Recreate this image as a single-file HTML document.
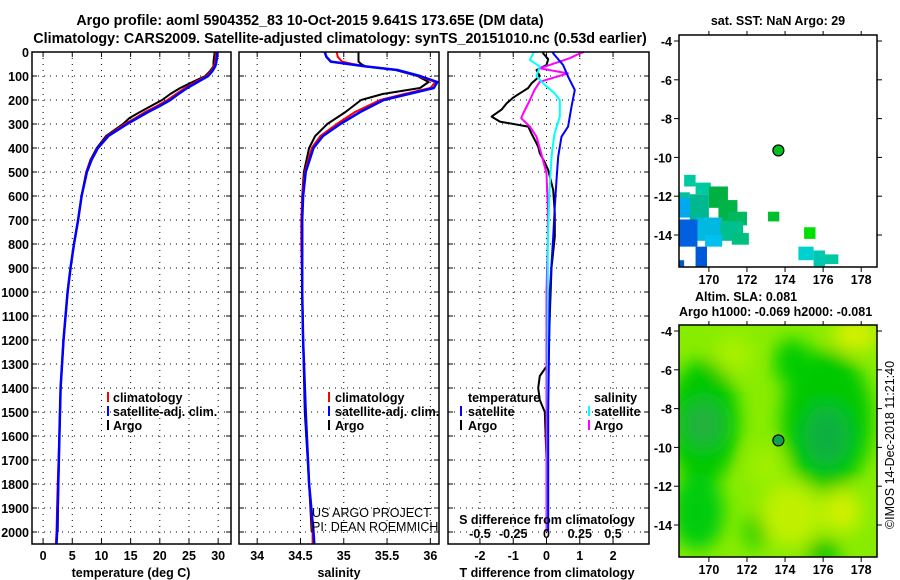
<!DOCTYPE html>
<html><head><meta charset="utf-8">
<style>
html,body{margin:0;padding:0;background:#fff;}
svg{display:block;font-family:"Liberation Sans",Arial,sans-serif;}
.b{font-weight:bold;font-size:14.3px;}
.t{font-weight:bold;font-size:12.5px;}
</style></head>
<body>
<svg id="chart" width="900" height="580" viewBox="0 0 900 580" xmlns="http://www.w3.org/2000/svg">
<defs>
<filter id="blur" x="-50%" y="-50%" width="200%" height="200%"><feGaussianBlur stdDeviation="9"/></filter>
<clipPath id="clipMap2"><rect x="679" y="325" width="198" height="232"/></clipPath>
<clipPath id="clipMap1"><rect x="679" y="35" width="198" height="232"/></clipPath>
</defs>
<text x="310" y="25" text-anchor="middle" class="b">Argo profile: aoml 5904352_83 10-Oct-2015 9.641S 173.65E (DM data)</text>
<text x="340" y="43" text-anchor="middle" class="b">Climatology: CARS2009. Satellite-adjusted climatology: synTS_20151010.nc (0.53d earlier)</text>
<text x="778" y="25" text-anchor="middle" class="t">sat. SST: NaN Argo: 29</text>
<text x="695" y="301" class="t">Altim. SLA: 0.081</text>
<text x="679" y="316" class="t">Argo h1000: -0.069 h2000: -0.081</text>
<text transform="translate(894,445) rotate(-90)" text-anchor="middle" font-size="12.5">©IMOS 14-Dec-2018 11:21:40</text>
<g id="g"></g>
</svg>
<script>
// ---- Temperature panel data ----
const tDepth = [0,20,40,60,80,100,125,150,175,200,225,250,275,300,350,400,450,500,600,700,800,900,1000,1200,1400,1600,1800,2000,2050];
const tClim = [29.6,29.6,29.5,29.3,28.8,28.0,26.1,24.3,22.8,21.3,19.5,17.5,15.8,14.0,11.0,9.3,8.2,7.4,6.6,6.0,5.3,4.7,4.2,3.5,3.0,2.8,2.5,2.3,2.2];
const tSat = [29.8,29.8,29.7,29.5,29.0,28.3,26.5,24.7,23.2,21.8,20.0,18.0,16.2,14.4,11.2,9.4,8.3,7.5,6.6,6.0,5.3,4.7,4.2,3.5,3.0,2.8,2.6,2.4,2.3];
const tArgoDepth = [0,20,40,60,80,100,125,150,175,200,225,250,275,300,350,400,450,500,600,700,800,900,1000,1200,1400,1600,1800,2000];
const tArgo = [29.4,29.3,29.2,29.2,28.6,27.8,25.6,23.5,21.8,20.4,18.5,16.6,14.8,13.7,10.8,9.2,8.1,7.4,6.6,6.0,5.3,4.7,4.2,3.5,3.0,2.8,2.6,2.5];
const tTicks = [0,5,10,15,20,25,30];
// ---- Salinity panel data ----
const sDepth = [0,20,40,50,60,75,100,125,150,175,200,250,300,350,400,500,600,700,800,1000,1200,1500,1800,2000,2050];
const sClim = [34.92,34.93,34.98,35.1,35.26,35.62,35.86,36.06,36.0,35.7,35.42,35.13,34.92,34.73,34.63,34.55,34.52,34.51,34.51,34.52,34.53,34.56,34.6,34.64,34.64];
const sSat = [34.78,34.80,34.85,35.05,35.25,35.62,35.88,36.08,36.04,35.75,35.46,35.19,34.96,34.76,34.65,34.56,34.53,34.52,34.52,34.52,34.53,34.56,34.6,34.65,34.66];
const sArgoDepth = [0,20,40,50,60,75,100,125,150,175,200,250,300,350,400,500,600,700,800,1000,1200,1500,1800,2000];
const sArgo = [35.17,35.17,35.17,35.2,35.25,35.6,35.85,35.98,35.88,35.45,35.2,35.02,34.81,34.67,34.6,34.54,34.52,34.52,34.52,34.52,34.53,34.55,34.6,34.63];
const sTicks = [34,34.5,35,35.5,36];
const sTickLabels = ["34","34.5","35","35.5","36"];
// ---- Difference panel data ----
const dArgoTDepth = [0,6,30,54,75,100,131,150,172,190,214,240,269,290,311,340,367,395,422,460,492,575,672,770,900,1100,1300,1350,1400,1450,1500,1700,2000];
const dArgoT = [-0.1,-0.1,0.05,0,-0.3,-0.2,-0.45,-0.55,-0.8,-1.0,-1.2,-1.35,-1.65,-1.4,-0.55,-0.45,-0.35,-0.25,-0.2,-0.05,0.05,0.2,0.25,0.25,0.15,0.1,0.05,-0.2,-0.25,-0.2,-0.05,0,0];
const dSatTDepth = [0,6,54,103,158,228,311,353,436,533,645,770,1000,1500,2000];
const dSatT = [0.2,0.2,0.5,0.65,0.85,0.75,0.65,0.45,0.35,0.3,0.25,0.2,0.1,0.05,0.05];
const dArgoSDepth = [0,6,26,68,89,124,158,200,256,276,311,353,422,506,644,783,1000,1500,2000];
const dArgoS = [0.28,0.25,0.175,-0.05,0.16,-0.05,-0.09,-0.125,-0.175,-0.19,-0.125,-0.075,-0.04,0,0.01,0.01,0,0,0];
const dSatSDepth = [0,6,33,61,100,131,172,200,270,340,425,550,783,1200,2000];
const dSatS = [-0.1,-0.1,-0.125,-0.05,-0.075,-0.025,0.06,0.1,0.1,0.06,0.04,0.025,0.01,0.01,0.01];
const dTTicks = [-2,-1,0,1,2];
const dSTicks = [-0.5,-0.25,0,0.25,0.5];
const dSTickLabels = ["-0.5","-0.25","0","0.25","0.5"];
const depthTicks = [0,100,200,300,400,500,600,700,800,900,1000,1100,1200,1300,1400,1500,1600,1700,1800,1900,2000];
// ---- Map data ----
const lonTicks = [170,172,174,176,178];
const latTicks = [-4,-6,-8,-10,-12,-14];
const argoLon = 173.65, argoLat = -9.641;
// SST cells: [lon0, lat0(top), lon1, lat1(bottom), color]
const sstCells = [
 [168.7,-10.9,169.3,-11.5,"#00c8a0"],
 [169.3,-11.3,170.1,-11.9,"#00c8a0"],
 [168.43,-11.8,169.0,-12.4,"#00c0a0"],
 [168.43,-12.1,169.2,-13.1,"#00a8f0"],
 [169.0,-11.9,170.0,-13.4,"#00b890"],
 [170.0,-11.5,171.0,-12.6,"#00b040"],
 [170.5,-12.2,171.5,-13.3,"#00b448"],
 [171.0,-12.8,172.0,-13.5,"#00b860"],
 [169.3,-13.1,170.7,-14.3,"#00b8e0"],
 [170.6,-13.3,171.8,-14.3,"#00c090"],
 [171.2,-13.9,172.1,-14.5,"#00c080"],
 [169.8,-14.0,170.7,-14.6,"#00c0f0"],
 [168.43,-13.2,169.4,-14.6,"#0060e0"],
 [169.3,-14.6,169.9,-15.65,"#0058d8"],
 [168.43,-15.3,168.7,-15.65,"#0058d8"],
 [173.1,-12.8,173.7,-13.3,"#00c030"],
 [175.0,-13.6,175.6,-14.2,"#00e000"],
 [174.7,-14.6,175.5,-15.3,"#00d0d0"],
 [175.5,-14.8,176.1,-15.65,"#00c8b0"],
 [176.1,-15.0,176.8,-15.5,"#00c8a0"]
];
// SLA blobs: [lon, lat, rLon, rLat, color]
const slaBlobs = [
 [169.7,-8.7,1.9,3.2,"#00c800"],
 [169.7,-8.8,1.0,1.2,"#20b040"],
 [169.4,-13.3,1.4,2.0,"#00cc10"],
 [172.5,-14.3,0.6,0.9,"#00cc00"],
 [176.2,-8.6,2.4,3.6,"#00c800"],
 [176.2,-9.4,1.2,1.6,"#10b040"],
 [174.4,-5.6,1.0,1.2,"#00cc00"],
 [176.0,-15.4,0.9,0.6,"#00c000"],
 [171.3,-5.2,1.0,1.0,"#a8f000"],
 [177.7,-4.2,1.2,0.8,"#d8f000"],
 [174.3,-13.5,1.6,1.6,"#c0f000"],
 [177.0,-13.3,1.0,1.1,"#d0f000"],
 [173.0,-11.0,0.9,1.0,"#a0f000"]
];

const NS="http://www.w3.org/2000/svg";
const G=document.getElementById('g');
function el(tag,attrs,parent){const e=document.createElementNS(NS,tag);for(const k in attrs)e.setAttribute(k,attrs[k]);(parent||G).appendChild(e);return e;}

const yTop=52,yBot=544,dMax=2050;
const yD=d=>yTop+d*(yBot-yTop)/dMax;
function lin(d0,d1,r0,r1){return v=>r0+(v-d0)*(r1-r0)/(d1-d0);}
const panels=[
 {x0:32,x1:231,sx:lin(-1.9,32.2,32,231),name:'temperature-panel'},
 {x0:239,x1:439,sx:lin(33.79,36.10,239,439),name:'salinity-panel'},
 {x0:448,x1:649,sx:lin(-2.96,3.08,448,649),name:'difference-panel'}
];
const sxS=v=>panels[2].sx(v*4);

function grid(p,xt,fx){
 const gg=el('g',{});
 
 
 xt.forEach(v=>{const x=fx(v);el('line',{x1:x,x2:x,y1:yTop,y2:yBot,stroke:'#000','stroke-width':1,'stroke-dasharray':'1,5'},gg);
   el('line',{x1:x,x2:x,y1:yBot,y2:yBot-5,stroke:'#000'},gg);el('line',{x1:x,x2:x,y1:yTop,y2:yTop+5,stroke:'#000'},gg);});
 depthTicks.forEach(d=>{const y=yD(d);el('line',{x1:p.x0,x2:p.x1,y1:y,y2:y,stroke:'#000','stroke-dasharray':'1,5'},gg);
   el('line',{x1:p.x0,x2:p.x0+5,y1:y,y2:y,stroke:'#000'},gg);el('line',{x1:p.x1,x2:p.x1-5,y1:y,y2:y,stroke:'#000'},gg);});
}
function frame(p){const r=el('rect',{x:p.x0,y:yTop,width:p.x1-p.x0,height:yBot-yTop,fill:'none',stroke:'#000','stroke-width':1.5});
 }
function line(vals,depths,fx,color,w,name){
 let d='';vals.forEach((v,i)=>{d+=(i?'L':'M')+fx(v).toFixed(1)+','+yD(depths[i]).toFixed(1);});
 const e=el('path',{d:d,fill:'none',stroke:color,'stroke-width':w,'stroke-linejoin':'round'});
 
 
}
function xlabels(ticks,labels,fx,y,nm){ticks.forEach((v,i)=>{const t=el('text',{x:fx(v),y:y,'text-anchor':'middle',class:'t'});t.textContent=labels[i];
 });}
function txt(x,y,s,nm,attrs){const t=el('text',Object.assign({x:x,y:y},attrs||{}));t.textContent=s;
 return t;}

// Panel 1
let p=panels[0];
grid(p,tTicks,p.sx);
line(tArgo,tArgoDepth,p.sx,'#000',2,'argo-temperature-line');
line(tClim,tDepth,p.sx,'#ff0000',2,'climatology-temperature-line');
line(tSat,tDepth,p.sx,'#0000ff',2.5,'satellite-temperature-line');
frame(p);
xlabels(tTicks,tTicks.map(String),p.sx,560,'temperature-x');
txt(131,577,'temperature (deg C)','temperature-axis-title',{'text-anchor':'middle',class:'t'});
depthTicks.forEach(d=>{txt(29,yD(d)+5,String(d),'depth-tick-label',{'text-anchor':'end',class:'t'});});
// Panel 2
p=panels[1];
grid(p,sTicks,p.sx);
line(sArgo,sArgoDepth,p.sx,'#000',2,'argo-salinity-line');
line(sClim,sDepth,p.sx,'#ff0000',2,'climatology-salinity-line');
line(sSat,sDepth,p.sx,'#0000ff',2.5,'satellite-salinity-line');
frame(p);
xlabels(sTicks,sTickLabels,p.sx,560,'salinity-x');
txt(339,577,'salinity','salinity-axis-title',{'text-anchor':'middle',class:'t'});
txt(312,517,'US ARGO PROJECT','project-credit',{'font-size':'12.5'});
txt(312,531,'PI: DEAN ROEMMICH','pi-credit',{'font-size':'12.5'});
// Panel 3
p=panels[2];
grid(p,dTTicks,p.sx);
line(dArgoT,dArgoTDepth,p.sx,'#000',2,'argo-temperature-diff-line');
line(dArgoS,dArgoSDepth,sxS,'#ff00ff',2,'argo-salinity-diff-line');
line(dSatS,dSatSDepth,sxS,'#00ffff',2,'satellite-salinity-diff-line');
line(dSatT,dSatTDepth,p.sx,'#0000ff',2,'satellite-temperature-diff-line');
frame(p);
xlabels(dTTicks,dTTicks.map(String),p.sx,560,'t-diff-x');
txt(547,577,'T difference from climatology','t-diff-axis-title',{'text-anchor':'middle',class:'t'});
txt(547,524,'S difference from climatology','s-diff-axis-title',{'text-anchor':'middle',class:'t'});
xlabels(dSTicks,dSTickLabels,sxS,538,'s-diff-x');

// Legends
function legItem(bx,tx,y,color,label,nm){
 const b=el('line',{x1:bx,x2:bx,y1:y-10,y2:y,stroke:color,'stroke-width':2});
 
 txt(tx,y,label,nm,{class:'t'});
}
legItem(108,113,402,'#ff0000','climatology','legend-climatology-t');
legItem(108,113,416,'#0000ff','satellite-adj. clim.','legend-satellite-t');
legItem(108,113,430,'#000','Argo','legend-argo-t');
legItem(329,335,402,'#ff0000','climatology','legend-climatology-s');
legItem(329,335,416,'#0000ff','satellite-adj. clim.','legend-satellite-s');
legItem(329,335,430,'#000','Argo','legend-argo-s');
txt(468,402,'temperature','legend-temperature-heading',{class:'t'});
txt(594,402,'salinity','legend-salinity-heading',{class:'t'});
legItem(461,468,416,'#0000ff','satellite','legend-satellite-tdiff');
legItem(461,468,430,'#000','Argo','legend-argo-tdiff');
legItem(589,594,416,'#00ffff','satellite','legend-satellite-sdiff');
legItem(589,594,430,'#ff00ff','Argo','legend-argo-sdiff');

// Maps
const mx=lin(168.43,178.83,679,877);
function my(oy){return lin(-3.69,-15.65,oy,oy+232);}
function mapAxes(oy,nm){
 const fy=my(oy);
 lonTicks.forEach(v=>{const x=mx(v);el('line',{x1:x,x2:x,y1:oy+232,y2:oy+237,stroke:'#000'});el('line',{x1:x,x2:x,y1:oy,y2:oy-4,stroke:'#000'});
  txt(x,oy+249,String(v),nm+'-lon-tick-label',{'text-anchor':'middle',class:'t'});});
 latTicks.forEach(v=>{const y=fy(v);el('line',{x1:679,x2:674,y1:y,y2:y,stroke:'#000'});el('line',{x1:877,x2:882,y1:y,y2:y,stroke:'#000'});
  txt(672,y+5,String(v),nm+'-lat-tick-label',{'text-anchor':'end',class:'t'});});
 const r=el('rect',{x:679,y:oy,width:198,height:232,fill:'none',stroke:'#000','stroke-width':1.5});
 
 const c=el('circle',{cx:mx(argoLon),cy:fy(argoLat),r:5.5,fill:oy<100?'#00c020':'#10a050',stroke:'#000','stroke-width':1.2});
 
}
// SST map
const y1=my(35);
const gs=el('g',{'clip-path':'url(#clipMap1)'});

sstCells.forEach(c=>{const r=el('rect',{x:mx(c[0]),y:y1(c[1]),width:mx(c[2])-mx(c[0]),height:y1(c[3])-y1(c[1]),fill:c[4]},gs);
 });
mapAxes(35,'sst-map');
// SLA map
const y2=my(325);
const gl=el('g',{'clip-path':'url(#clipMap2)'});

el('rect',{x:679,y:325,width:198,height:232,fill:'#88ec00'},gl);
const gb=el('g',{filter:'url(#blur)'},gl);
slaBlobs.forEach(b=>{const e=el('ellipse',{cx:mx(b[0]),cy:y2(b[1]),rx:mx(b[0]+b[2])-mx(b[0]),ry:y2(b[1]-b[3])-y2(b[1]),fill:b[4]},gb);
 });
mapAxes(325,'sla-map');
</script>
</body></html>
